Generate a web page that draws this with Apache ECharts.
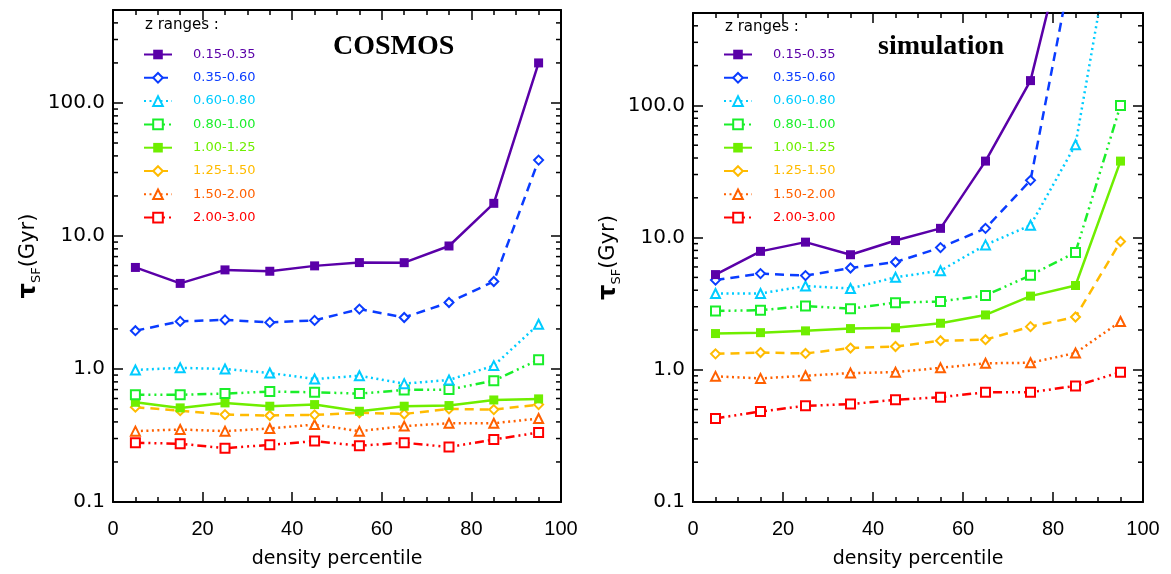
<!DOCTYPE html>
<html><head><meta charset="utf-8">
<script src="https://cdn.jsdelivr.net/npm/echarts@6/dist/echarts.min.js"></script>
<style>html,body{margin:0;padding:0;background:#fff}#c{width:1171px;height:574px}</style>
</head><body><div id="c"></div>
<script>
// ---- data ----
const percentiles = [5, 15, 25, 35, 45, 55, 65, 75, 85, 95];
const zRanges = ['0.15-0.35', '0.35-0.60', '0.60-0.80', '0.80-1.00', '1.00-1.25', '1.25-1.50', '1.50-2.00', '2.00-3.00'];
const xTicks = [0, 20, 40, 60, 80, 100];
const yTickLabels = ['0.1', '1.0', '10.0', '100.0'];

// COSMOS panel
const cosmos_z1 = [5.8, 4.4, 5.56, 5.43, 5.96, 6.31, 6.3, 8.41, 17.6, 200];
const cosmos_z2 = [1.94, 2.28, 2.34, 2.24, 2.32, 2.82, 2.44, 3.16, 4.55, 37.2];
const cosmos_z3 = [0.983, 1.02, 1.0, 0.933, 0.84, 0.89, 0.776, 0.827, 1.06, 2.17];
const cosmos_z4 = [0.641, 0.64, 0.653, 0.676, 0.668, 0.653, 0.696, 0.70, 0.817, 1.175];
const cosmos_z5 = [0.562, 0.51, 0.556, 0.525, 0.54, 0.481, 0.525, 0.531, 0.585, 0.596];
const cosmos_z6 = [0.516, 0.486, 0.454, 0.447, 0.452, 0.468, 0.459, 0.501, 0.495, 0.54];
const cosmos_z7 = [0.341, 0.351, 0.341, 0.357, 0.382, 0.341, 0.372, 0.391, 0.391, 0.424];
const cosmos_z8 = [0.279, 0.274, 0.254, 0.269, 0.287, 0.265, 0.279, 0.259, 0.295, 0.333];

// simulation panel
const sim_z1 = [5.25, 7.87, 9.24, 7.42, 9.5, 11.75, 37.9, 154, 3700, 60000];
const sim_z2 = [4.77, 5.34, 5.16, 5.89, 6.53, 8.4, 11.75, 27.1, 1560, 20000];
const sim_z3 = [3.78, 3.78, 4.30, 4.12, 5.01, 5.62, 8.81, 12.4, 50.4, 4490];
const sim_z4 = [2.79, 2.82, 3.04, 2.90, 3.22, 3.29, 3.65, 5.19, 7.73, 100];
const sim_z5 = [1.88, 1.91, 1.97, 2.05, 2.08, 2.25, 2.60, 3.61, 4.34, 37.9];
const sim_z6 = [1.32, 1.35, 1.33, 1.46, 1.50, 1.66, 1.69, 2.12, 2.51, 9.34];
const sim_z7 = [0.892, 0.861, 0.902, 0.944, 0.96, 1.035, 1.12, 1.13, 1.34, 2.32];
const sim_z8 = [0.429, 0.484, 0.534, 0.55, 0.593, 0.621, 0.676, 0.676, 0.755, 0.96];

const cosmosSets = [cosmos_z1, cosmos_z2, cosmos_z3, cosmos_z4, cosmos_z5, cosmos_z6, cosmos_z7, cosmos_z8];
const simSets = [sim_z1, sim_z2, sim_z3, sim_z4, sim_z5, sim_z6, sim_z7, sim_z8];

// ---- styles ----
const colors = ['#5a00a8', '#0a3cff', '#00ccff', '#1aee2a', '#6fee00', '#ffbb00', '#ff6000', '#ff0000'];
const symbols = ['rect', 'emptyDiamond', 'emptyTriangle', 'emptyRect', 'rect', 'emptyDiamond', 'emptyTriangle', 'emptyRect'];
const symSizes = [9, 9, 9, 9, 9, 9, 9, 9];
const DDD = [9, 4, 2, 4, 2, 4, 2, 4];
const dashes = ['solid', [9, 6], [2, 3.5], DDD, 'solid', [9, 6], [2, 3.5], DDD];

const FONT = "'DejaVu Sans', sans-serif";
const XFONT = "'Liberation Sans', 'DejaVu Sans', sans-serif";

function mkSeries(sets, xi, yi) {
  return sets.map((vals, i) => ({
    type: 'line', name: zRanges[i], xAxisIndex: xi, yAxisIndex: yi,
    data: percentiles.map((p, k) => [p, vals[k]]),
    symbol: symbols[i], symbolSize: symSizes[i], showAllSymbol: true,
    lineStyle: { color: colors[i], width: 2.5, type: dashes[i] },
    itemStyle: { color: colors[i], borderColor: colors[i], borderWidth: symbols[i] === 'rect' ? 0 : (symbols[i] === 'emptyDiamond' ? 3 : 2.2) },
    emphasis: { disabled: true }, animation: false, z: 10 + (8 - i)
  }));
}

// minor log ticks (2..9 per decade)
const minorTicks = [];
[0.1, 1, 10, 100].forEach(d => { for (let m = 2; m <= 9; m++) { const v = m * d; if (v <= 500) minorTicks.push(+v.toPrecision(3)); } });

function mkMinor(xi, yi) {
  return {
    type: 'custom', xAxisIndex: xi, yAxisIndex: yi, silent: true, clip: false, animation: false,
    data: minorTicks.map(v => [0, v]), encode: { x: 0, y: 1 },
    renderItem: (params, api) => {
      const v = api.value(1);
      const a = api.coord([0, v]);
      const b = api.coord([100, v]);
      return { type: 'group', children: [
        { type: 'line', shape: { x1: a[0], y1: a[1], x2: a[0] + 5, y2: a[1] }, style: { stroke: '#000', lineWidth: 1.5 } },
        { type: 'line', shape: { x1: b[0] - 5, y1: b[1], x2: b[0], y2: b[1] }, style: { stroke: '#000', lineWidth: 1.5 } }
      ] };
    }
  };
}

function xAx(grid, pos) {
  const bottom = pos === 'bottom';
  return {
    type: 'value', gridIndex: grid, position: pos, min: 0, max: 100, interval: 20,
    axisLine: { show: true, onZero: false, lineStyle: { color: '#000', width: 2 } },
    axisTick: { show: true, inside: true, length: 10, lineStyle: { color: '#000', width: 1.5 } },
    minorTick: { show: true, splitNumber: 4, length: 5, lineStyle: { color: '#000', width: 1.5 } },
    splitLine: { show: false },
    axisLabel: { show: bottom, margin: 17, fontFamily: XFONT, fontSize: 20, color: '#000', formatter: v => (xTicks.includes(v) ? String(v) : '') },
    name: bottom ? 'density percentile' : '', nameLocation: 'middle', nameGap: 48,
    nameTextStyle: { fontFamily: FONT, fontSize: 19, color: '#000' }
  };
}
function yAx(grid, pos) {
  const left = pos === 'left';
  return {
    type: 'log', logBase: 10, gridIndex: grid, position: pos, min: 0.1, max: 500,
    axisLine: { show: true, onZero: false, lineStyle: { color: '#000', width: 2 } },
    axisTick: { show: true, inside: true, length: 10, lineStyle: { color: '#000', width: 1.5 } },
    splitLine: { show: false },
    axisLabel: { show: left, margin: 8, fontFamily: FONT, fontSize: 20, color: '#000', showMaxLabel: false,
      formatter: v => { const s = (+v).toFixed(1); return yTickLabels.includes(s) ? s : ''; } },
    name: left ? '{t|τ}{s|SF}{g|(Gyr)}' : '', nameLocation: 'middle', nameGap: 70, nameRotate: 90,
    nameTextStyle: { color: '#000', rich: {
      t: { fontFamily: FONT, fontSize: 24, fontWeight: 'bold', lineHeight: 28, color: '#000' },
      s: { fontFamily: FONT, fontSize: 13, lineHeight: 28, verticalAlign: 'bottom', color: '#000' },
      g: { fontFamily: FONT, fontSize: 21, lineHeight: 28, color: '#000' } } }
  };
}
function mkLegend(left) {
  return {
    orient: 'vertical', left: left, top: 42, itemWidth: 28, itemHeight: 12, itemGap: 8.3,
    selectedMode: false,
    data: zRanges.map((n, i) => ({ name: n, textStyle: { color: colors[i] } })),
    textStyle: { fontFamily: FONT, fontSize: 13, lineHeight: 15, padding: [0, 0, 0, 16] }
  };
}

const chart = echarts.init(document.getElementById('c'), null, { renderer: 'canvas' });
chart.setOption({
  backgroundColor: '#fff',
  animation: false,
  grid: [
    { left: 113, top: 10, width: 448, height: 493 },
    { left: 693, top: 13, width: 450, height: 494 }
  ],
  xAxis: [xAx(0, 'bottom'), xAx(0, 'top'), xAx(1, 'bottom'), xAx(1, 'top')],
  yAxis: [yAx(0, 'left'), yAx(0, 'right'), yAx(1, 'left'), yAx(1, 'right')],
  legend: [mkLegend(138), mkLegend(718)],
  graphic: [
    { type: 'text', left: 145, top: 18, style: { text: 'z ranges :', fontFamily: FONT, fontSize: 15, fill: '#000' } },
    { type: 'text', left: 725, top: 20, style: { text: 'z ranges :', fontFamily: FONT, fontSize: 15, fill: '#000' } },
    { type: 'text', left: 333, top: 33, style: { text: 'COSMOS', fontFamily: "'Liberation Serif', serif", fontWeight: 'bold', fontSize: 28, fill: '#000' } },
    { type: 'text', left: 878, top: 33, style: { text: 'simulation', fontFamily: "'Liberation Serif', serif", fontWeight: 'bold', fontSize: 28, fill: '#000' } }
  ],
  series: [
    ...mkSeries(cosmosSets, 0, 0),
    ...mkSeries(simSets, 2, 2),
    mkMinor(0, 0), mkMinor(2, 2)
  ]
});
</script></body></html>
